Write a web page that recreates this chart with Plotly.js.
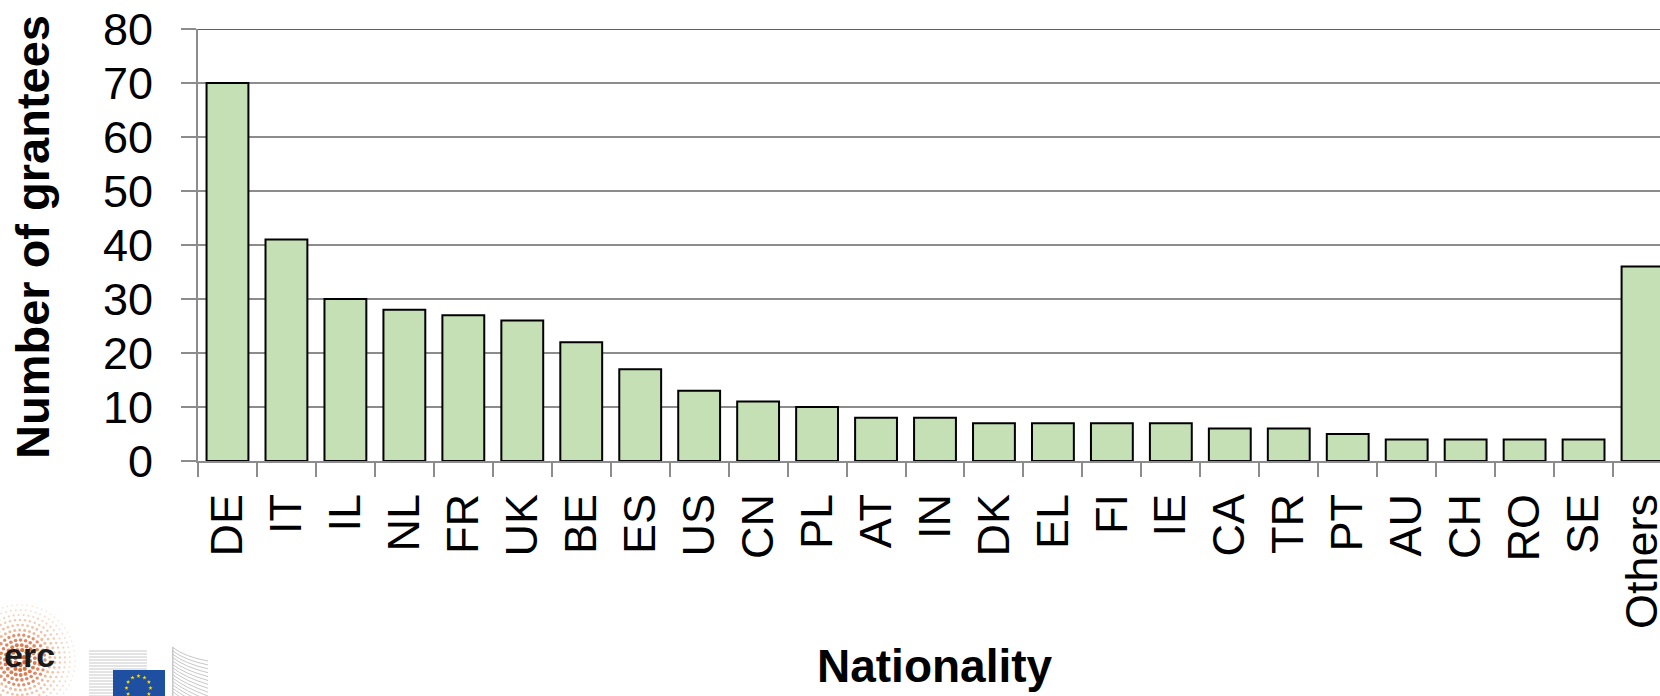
<!DOCTYPE html>
<html>
<head>
<meta charset="utf-8">
<script src="https://cdn.plot.ly/plotly-3.0.1.min.js"></script>
<style>
html,body{margin:0;padding:0;overflow:hidden;background:#fff;}
#chart{width:1672px;height:696px;}
</style>
</head>
<body>
<div id="chart"></div>
<script>
// ---- data ----
var nationalities = ["DE","IT","IL","NL","FR","UK","BE","ES","US","CN","PL","AT","IN","DK","EL","FI","IE","CA","TR","PT","AU","CH","RO","SE","Others"];
var grantees = [70,41,30,28,27,26,22,17,13,11,10,8,8,7,7,7,7,6,6,5,4,4,4,4,36];
var yTickValues = [0,10,20,30,40,50,60,70,80];
var yTitle = "Number of grantees";
var xTitle = "Nationality";

// ---- decorative logos (svg data uri) ----
function buildLogoSvg(){
  var s = '<svg xmlns="http://www.w3.org/2000/svg" width="220" height="96" viewBox="0 0 220 96">';
  // erc halo of dots
  var cx = 20, cy = 60;
  for (var r = 5; r <= 58; r += 5) {
    var n = Math.round(2*Math.PI*r/5);
    for (var k = 0; k < n; k++) {
      var a = 2*Math.PI*k/n + r*0.3;
      var x = cx + r*Math.cos(a), y = cy + r*Math.sin(a);
      var t = r/58;
      var rad = 2.4*(1-t*0.7);
      var op = (1 - t*0.8).toFixed(2);
      var col = t < 0.45 ? '#cf5a25' : '#e38a55';
      s += '<circle cx="'+x.toFixed(1)+'" cy="'+y.toFixed(1)+'" r="'+rad.toFixed(2)+'" fill="'+col+'" opacity="'+op+'"/>';
    }
  }
  // EU building left wing
  for (var i = 0; i < 16; i++) {
    var yl = 96 - i*3;
    var yr = 62 + (96-62)*(1 - i/15);
    s += '<path d="M89 '+(yl).toFixed(1)+' Q 120 '+(yl).toFixed(1)+' 147 '+(Math.min(yl, yr)).toFixed(1)+'" stroke="#c8c8c8" stroke-width="1" fill="none"/>';
  }
  // EU building right wing
  for (var j = 0; j < 14; j++) {
    var y0 = 47 + j*3.4;
    s += '<path d="M172 '+(y0).toFixed(1)+' Q 185 '+(y0+10).toFixed(1)+' 208 '+(y0+14+j*0.5).toFixed(1)+'" stroke="#c8c8c8" stroke-width="1" fill="none"/>';
  }
  s += '<rect x="172" y="47" width="1.5" height="49" fill="#c8c8c8"/>';
  // flag
  s += '<rect x="113" y="70" width="52" height="30" fill="#1f4fa0"/>';
  var fcx = 138.5, fcy = 88, fr = 12;
  for (var m = 0; m < 12; m++) {
    var ang = -Math.PI/2 + m*Math.PI/6;
    var sx = fcx + fr*Math.cos(ang), sy = fcy + fr*Math.sin(ang);
    var pts = [];
    for (var p = 0; p < 10; p++) {
      var aa = -Math.PI/2 + p*Math.PI/5;
      var rr = p%2===0 ? 2.2 : 0.9;
      pts.push((sx+rr*Math.cos(aa)).toFixed(2)+','+(sy+rr*Math.sin(aa)).toFixed(2));
    }
    s += '<polygon points="'+pts.join(' ')+'" fill="#ffdd00"/>';
  }
  s += '</svg>';
  return 'data:image/svg+xml;charset=utf-8,' + encodeURIComponent(s);
}

// ---- geometry helpers for pixel -> paper (layout constants) ----
var W = 1672, H = 696;
var M = {l:198, r:0, t:29, b:235};
var PW = W - M.l - M.r, PH = H - M.t - M.b;
function px2x(px){ return (px - M.l)/PW; }
function py2y(py){ return (H - M.b - py)/PH; }

var trace = {
  type: 'bar',
  x: nationalities,
  y: grantees,
  marker: {color: '#c5e0b4', line: {color: '#000000', width: 2}},
  hoverinfo: 'x+y'
};

var gridCol = '#8c8c8c';
var fontFam = '"Liberation Sans", Arial, sans-serif';

var layout = {
  width: W, height: H,
  margin: M,
  paper_bgcolor: '#ffffff',
  plot_bgcolor: '#ffffff',
  showlegend: false,
  bargap: 0.29,
  font: {family: fontFam, color: '#000000'},
  xaxis: {
    type: 'category',
    range: [-0.5, nationalities.length - 0.5],
    tickangle: -90,
    tickfont: {size: 45, family: fontFam, color: '#000'},
    ticks: 'outside', tickson: 'boundaries', ticklen: 14, tickwidth: 2, tickcolor: gridCol,
    showline: true, linecolor: gridCol, linewidth: 2,
    showgrid: false, zeroline: false,
    ticklabelstandoff: 13,
    fixedrange: true
  },
  yaxis: {
    range: [0, 80],
    tickvals: yTickValues,
    ticktext: yTickValues.map(String),
    tickfont: {size: 45, family: fontFam, color: '#000'},
    ticks: 'outside', ticklen: 15, tickwidth: 2, tickcolor: gridCol,
    showline: true, linecolor: gridCol, linewidth: 2,
    showgrid: true, gridcolor: gridCol, gridwidth: 2,
    zeroline: false,
    ticklabelstandoff: 19,
    fixedrange: true
  },
  shapes: [
    {type: 'line', xref: 'paper', yref: 'y', x0: 0, x1: 1, y0: 80, y1: 80,
     line: {color: '#5f5f5f', width: 2}}
  ],
  annotations: [
    {text: '<b>' + yTitle + '</b>', xref: 'paper', yref: 'paper',
     x: px2x(32), y: py2y(237), xanchor: 'center', yanchor: 'middle',
     textangle: -90, showarrow: false, font: {size: 47, family: fontFam, color: '#000'}},
    {text: '<b>' + xTitle + '</b>', xref: 'paper', yref: 'paper',
     x: 0.5, y: py2y(666), xanchor: 'center', yanchor: 'middle',
     showarrow: false, font: {size: 46, family: fontFam, color: '#000'}},
    {text: '<b>erc</b>', xref: 'paper', yref: 'paper',
     x: px2x(29), y: py2y(655), xanchor: 'center', yanchor: 'middle',
     showarrow: false, font: {size: 34, family: fontFam, color: '#1a1a1a'}}
  ],
  images: [
    {source: buildLogoSvg(), xref: 'paper', yref: 'paper',
     x: px2x(0), y: py2y(600), sizex: 220/PW, sizey: 96/PH,
     xanchor: 'left', yanchor: 'top', sizing: 'stretch', layer: 'below'}
  ]
};

Plotly.newPlot('chart', [trace], layout, {displayModeBar: false, staticPlot: true});
</script>
</body>
</html>
